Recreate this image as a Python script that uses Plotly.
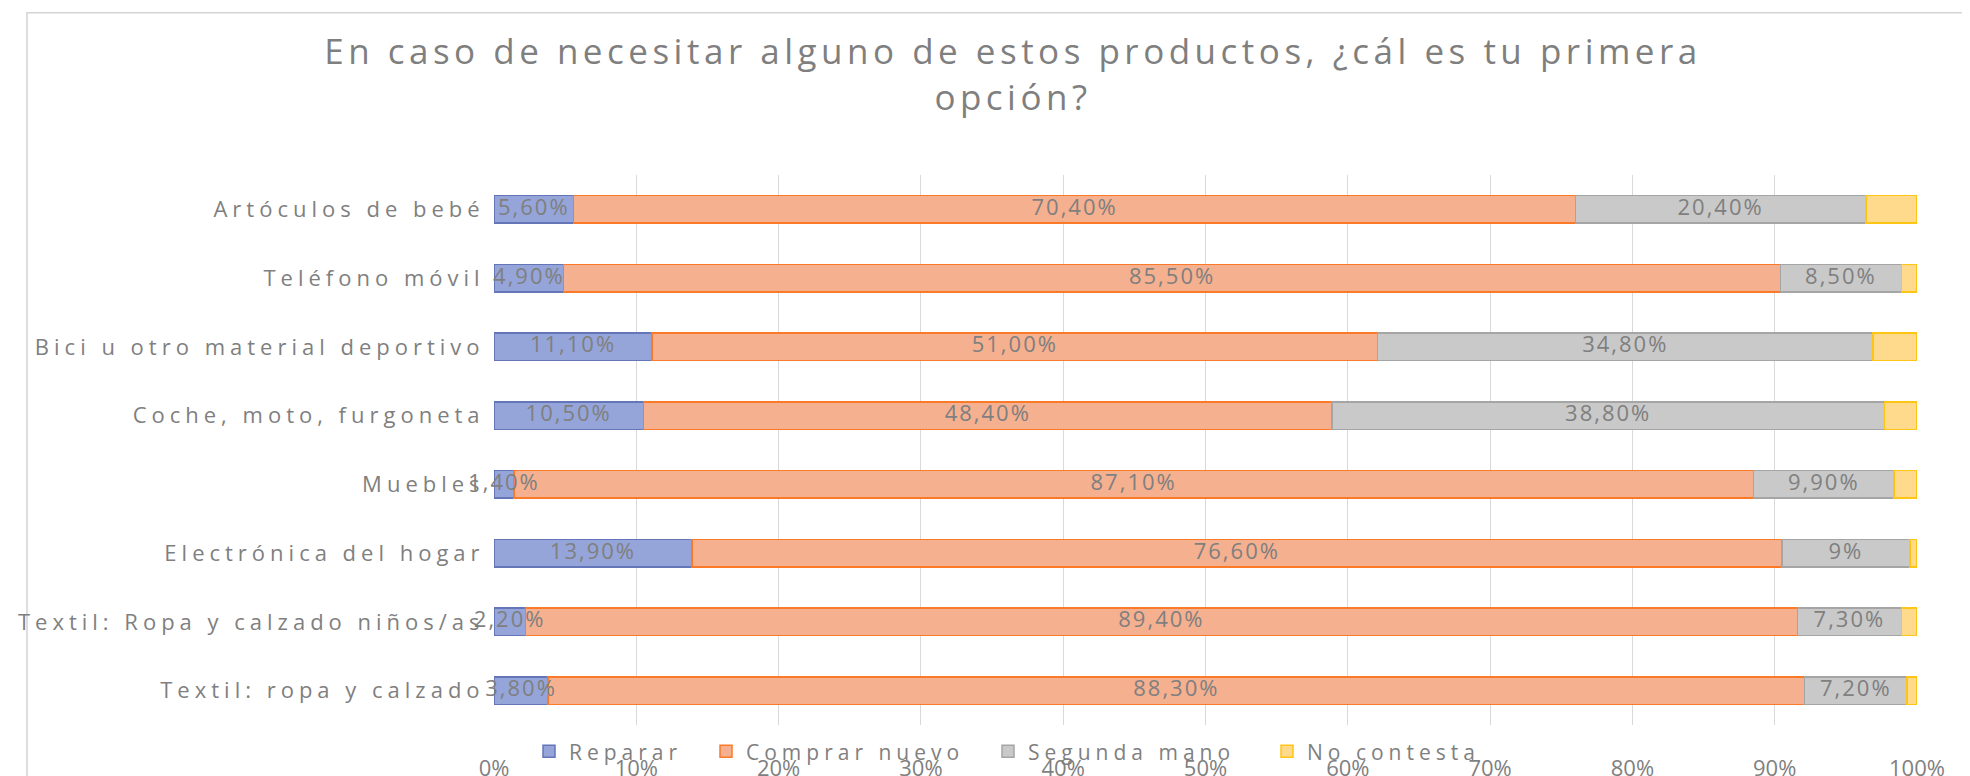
import numpy as np
import plotly.graph_objects as go

categories = [
    "Artóculos de bebé",
    "Teléfono móvil",
    "Bici u otro material deportivo",
    "Coche, moto, furgoneta",
    "Muebles",
    "Electrónica del hogar",
    "Textil: Ropa y calzado niños/as",
    "Textil: ropa y calzado",
]

series_names = ["Reparar", "Comprar nuevo", "Segunda mano", "No contesta"]

reparar = [5.6, 4.9, 11.1, 10.5, 1.4, 13.9, 2.2, 3.8]
comprar_nuevo = [70.4, 85.5, 51.0, 48.4, 87.1, 76.6, 89.4, 88.3]
segunda_mano = [20.4, 8.5, 34.8, 38.8, 9.9, 9.0, 7.3, 7.2]
no_contesta = [3.6, 1.1, 3.1, 2.3, 1.6, 0.5, 1.1, 0.7]

reparar_labels = ["5,60%", "4,90%", "11,10%", "10,50%", "1,40%", "13,90%", "2,20%", "3,80%"]
comprar_labels = ["70,40%", "85,50%", "51,00%", "48,40%", "87,10%", "76,60%", "89,40%", "88,30%"]
segunda_labels = ["20,40%", "8,50%", "34,80%", "38,80%", "9,90%", "9%", "7,30%", "7,20%"]

x_ticks = [0, 10, 20, 30, 40, 50, 60, 70, 80, 90, 100]
x_tick_labels = ["0%", "10%", "20%", "30%", "40%", "50%", "60%", "70%", "80%", "90%", "100%"]

title_text = "En caso de necesitar alguno de estos productos, ¿cál es tu primera<br>opción?"

fills = ["#95a5d9", "#f5b090", "#c9c9c9", "#ffd98c"]
borders = ["#6475b8", "#fb7a2a", "#a5a5a5", "#ffc514"]

GRAY = "#7f7f7f"
FONT = "Open Sans"

def spaced(s, ls):
    return f'<span style="letter-spacing:{ls}px">{s}</span>'

# page body has an 8px margin: convert screen px -> figure px
OFF = 8
W, H = 1970, 776
L = 494 - OFF
T = 175 - OFF
R = W - (1917 - OFF)
B = H - (731 - OFF)
pw, ph = W - L - R, H - T - B

def px_x(p):
    return (p - L) / pw

def px_y(p):
    return (H - B - p) / ph

legend_ids = ["legend", "legend2", "legend3", "legend4"]
legend_x_screen = [544, 721, 1003, 1282]

values = [reparar, comprar_nuevo, segunda_mano, no_contesta]
fig = go.Figure()
for name, vals, fc, bc, lid in zip(series_names, values, fills, borders, legend_ids):
    fig.add_trace(go.Bar(
        y=categories, x=vals, name=spaced(name, 5), orientation="h",
        marker=dict(color=fc, line=dict(color=bc, width=1.5)),
        hoverinfo="x+name", legend=lid,
    ))

# data labels centred in each segment
arr = np.array(values[:3])
cum = np.cumsum(arr, axis=0)
mids = cum - arr / 2
for mid, labels in zip(mids, [reparar_labels, comprar_labels, segunda_labels]):
    fig.add_trace(go.Scatter(
        y=categories, x=mid, mode="text", text=[spaced(t, 2) for t in labels],
        textposition="middle center",
        textfont=dict(family=FONT, size=22, color=GRAY),
        showlegend=False, hoverinfo="skip", cliponaxis=False,
    ))

fig.add_shape(type="rect", xref="paper", yref="paper",
              x0=px_x(27 - OFF), x1=px_x(1990), y0=px_y(11 - OFF), y1=px_y(800),
              line=dict(color="#d4d4d4", width=1.5), fillcolor="rgba(0,0,0,0)", layer="below")

legend_layouts = {}
for lid, sx in zip(legend_ids, legend_x_screen):
    legend_layouts[lid] = dict(
        orientation="h", x=px_x(sx - 23), xanchor="left", y=px_y(750), yanchor="middle",
        font=dict(family=FONT, size=21, color=GRAY), bgcolor="rgba(0,0,0,0)",
        itemwidth=30)

fig.update_layout(
    width=W, height=H,
    margin=dict(l=L, r=R, t=T, b=B),
    paper_bgcolor="white", plot_bgcolor="white",
    barmode="stack", bargap=0.6,
    title=dict(text=spaced(title_text, 4.5), x=1005 / W, xanchor="center", xref="container",
               y=1 - 56 / H, yanchor="top", yref="container",
               font=dict(family=FONT, size=35, color=GRAY)),
    font=dict(family=FONT, color=GRAY),
    xaxis=dict(range=[0, 100], tickvals=x_ticks, ticktext=x_tick_labels,
               showgrid=True, gridcolor="#d9d9d9", gridwidth=1.2,
               zeroline=False, showline=False, automargin=False,
               ticks="outside", ticklen=24, tickcolor="rgba(0,0,0,0)",
               tickfont=dict(family=FONT, size=22, color=GRAY)),
    yaxis=dict(categoryorder="array", categoryarray=categories, autorange="reversed",
               tickvals=categories, ticktext=[spaced(c, 5) for c in categories],
               showgrid=False, zeroline=False, showline=False, automargin=False,
               ticks="outside", ticklen=4, tickcolor="rgba(0,0,0,0)",
               tickfont=dict(family=FONT, size=22, color=GRAY)),
    **legend_layouts,
)

fig.write_html("out.html")
